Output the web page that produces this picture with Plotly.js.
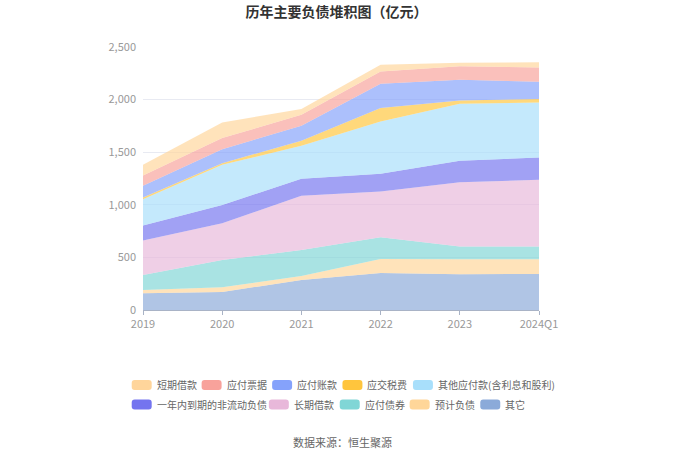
<!DOCTYPE html>
<html><head><meta charset="utf-8">
<script src="https://cdn.plot.ly/plotly-3.0.1.min.js"></script>
<style>html,body{margin:0;padding:0;background:#fff}#chart{width:680px;height:460px}</style>
</head><body><div id="chart"></div>
<script>
var categories = ['2019', '2020', '2021', '2022', '2023', '2024Q1'];
// series names, bottom to top of the stack
var seriesNames = ['其它', '预计负债', '应付债券', '长期借款', '一年内到期的非流动负债', '其他应付款(含利息和股利)', '应交税费', '应付账款', '应付票据', '短期借款'];
var qita     = [159, 171, 286, 352, 339, 343];
var yujifz   = [31, 45, 38, 133, 143, 139];
var yingfuzq = [143, 260, 247, 207, 121, 121];
var changqi  = [327, 349, 514, 434, 612, 634];
var yinian   = [143, 174, 162, 168, 203, 213];
var qitayf   = [250, 381, 314, 498, 543, 523];
var yingjiao = [16, 16, 47, 127, 31, 32];
var yingfuzk = [111, 133, 143, 232, 197, 165];
var yingfupj = [99, 105, 105, 117, 127, 136];
var duanqi   = [101, 149, 54, 64, 35, 48];
var seriesValues = [qita, yujifz, yingfuzq, changqi, yinian, qitayf, yingjiao, yingfuzk, yingfupj, duanqi];
var colors = ['#8BAAD9', '#FFD699', '#80D6D6', '#E8B8DA', '#7474EF', '#A8DFFB', '#FFC53D', '#85A2FB', '#F8A29B', '#FFD59B'];
var yTicks = [0, 500, 1000, 1500, 2000, 2500];
var yTickText = ['0', '500', '1,000', '1,500', '2,000', '2,500'];
// legend order (top-left reading order) as indices into seriesNames
var legendRow1 = [9, 8, 7, 6, 5];
var legendRow2 = [4, 3, 2, 1, 0];

function rgba(hex, a) {
  var r = parseInt(hex.substr(1, 2), 16), g = parseInt(hex.substr(3, 2), 16), b = parseInt(hex.substr(5, 2), 16);
  return 'rgba(' + r + ',' + g + ',' + b + ',' + a + ')';
}

var FONT = '"Noto Sans CJK SC", "Noto Sans", sans-serif';
var W = 680, H = 460, ML = 143, MR = 140.5, MT = 47.3, MB = 149.5;
var PW = W - ML - MR, PH = H - MT - MB;
function px(x) { return (x - ML) / PW; }
function py(y) { return (H - MB - y) / PH; }
function roundRect(x0, y0, w, h, r) {
  // path in paper coords for a rounded rectangle given in pixels
  function P(x, y) { return px(x) + ',' + py(y); }
  var x1 = x0 + w, y1 = y0 + h;
  return 'M' + P(x0 + r, y0) + ' L' + P(x1 - r, y0) + ' Q' + P(x1, y0) + ' ' + P(x1, y0 + r) +
    ' L' + P(x1, y1 - r) + ' Q' + P(x1, y1) + ' ' + P(x1 - r, y1) +
    ' L' + P(x0 + r, y1) + ' Q' + P(x0, y1) + ' ' + P(x0, y1 - r) +
    ' L' + P(x0, y0 + r) + ' Q' + P(x0, y0) + ' ' + P(x0 + r, y0) + ' Z';
}

var traces = seriesNames.map(function (n, i) {
  return {
    type: 'scatter', mode: 'lines', name: n, x: categories, y: seriesValues[i],
    stackgroup: 'one', line: {width: 0, color: colors[i]}, fillcolor: rgba(colors[i], 0.68),
    showlegend: false, hoverinfo: 'x+y+name'
  };
});

var shapes = [], annotations = [];
var rows = [[legendRow1, 385.5, [131.7, 201.7, 272.3, 342.7, 413.3]], [legendRow2, 405, [131.7, 269, 340, 410, 480.7]]];
rows.forEach(function (r) {
  r[0].forEach(function (idx, k) {
    var x0 = r[2][k], yc = r[1];
    shapes.push({type: 'path', xref: 'paper', yref: 'paper', path: roundRect(x0, yc - 5, 20, 10, 3),
      fillcolor: colors[idx], line: {width: 0}});
    annotations.push({xref: 'paper', yref: 'paper', x: px(x0 + 23), y: py(yc), xanchor: 'left', yanchor: 'middle',
      text: seriesNames[idx], showarrow: false, font: {family: FONT, size: 10, color: '#666'}});
  });
});
annotations.push({xref: 'paper', yref: 'paper', x: px(343), y: py(443), xanchor: 'center', yanchor: 'middle',
  text: '数据来源：恒生聚源', showarrow: false, font: {family: FONT, size: 11, color: '#666'}});

var layout = {
  width: W, height: H, margin: {l: ML, r: MR, t: MT, b: MB},
  paper_bgcolor: '#fff', plot_bgcolor: '#fff',
  title: {text: '历年主要负债堆积图（亿元）', x: 0.495, xanchor: 'center', y: 1 - 12 / H, yanchor: 'middle',
    font: {family: FONT, size: 14, color: '#333', weight: 'bold'}},
  xaxis: {type: 'category', range: [0, 5], showgrid: false, zeroline: false,
    showline: true, linecolor: '#a9b3c6', linewidth: 1, ticks: 'outside', ticklen: 4, tickcolor: '#a9b3c6',
    tickfont: {family: FONT, size: 11, color: '#999'}, fixedrange: true},
  yaxis: {range: [0, 2500], tickvals: yTicks, ticktext: yTickText, showgrid: true, gridcolor: '#e8eaf2',
    zeroline: false, showline: false, ticks: '', ticklabelstandoff: 6,
    tickfont: {family: FONT, size: 11, color: '#999'}, fixedrange: true},
  shapes: shapes, annotations: annotations, showlegend: false, hovermode: 'x'
};
Plotly.newPlot('chart', traces, layout, {displayModeBar: false});
</script></body></html>
